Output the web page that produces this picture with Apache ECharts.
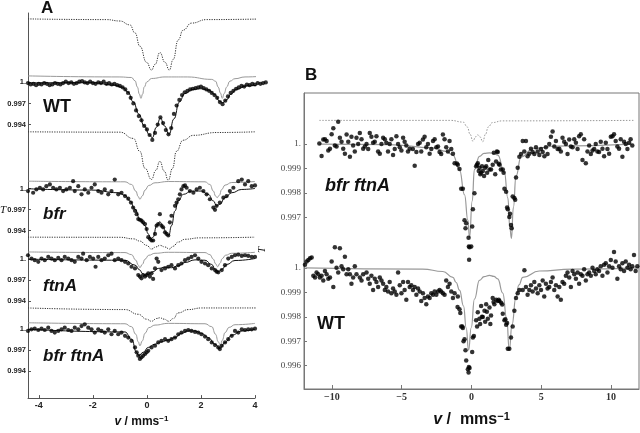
<!DOCTYPE html>
<html><head><meta charset="utf-8">
<script src="https://cdn.jsdelivr.net/npm/echarts@6/dist/echarts.min.js"></script>
<style>html,body{margin:0;padding:0;background:#fff}#c{width:640px;height:433px}</style>
</head><body><div id="c"></div>
<script>
// ---------------- DATA (panel A, v in mm/s, T transmission) ----------------
const leftTicksX = [-4, -2, 0, 2, 4];
const leftTicksY = [0.994, 0.997, 1];
const rightTicksX = [-10, -5, 0, 5, 10];
const rightTicksYTop = [0.997, 0.998, 0.999, 1];
const rightTicksYBot = [0.996, 0.997, 0.998, 0.999, 1];

// WT (panel A)
const A_WT_v = [-4.4,-4.3,-4.2,-4.1,-4.0,-3.9,-3.8,-3.7,-3.6,-3.5,-3.4,-3.3,-3.2,-3.1,-3.0,-2.9,-2.8,-2.7,-2.6,-2.5,-2.4,-2.3,-2.2,-2.1,-2.0,-1.9,-1.8,-1.7,-1.6,-1.5,-1.4,-1.3,-1.2,-1.1,-1.0,-0.9,-0.8,-0.7,-0.6,-0.5,-0.4,-0.3,-0.2,-0.1,0.0,0.1,0.2,0.3,0.4,0.5,0.6,0.7,0.8,0.9,1.0,1.1,1.2,1.3,1.4,1.5,1.6,1.7,1.8,1.9,2.0,2.1,2.2,2.3,2.4,2.5,2.6,2.7,2.8,2.9,3.0,3.1,3.2,3.3,3.4,3.5,3.6,3.7,3.8,3.9,4.0,4.1,4.2,4.3,4.4];
const A_WT_T = [0.9999,0.9997,0.9998,0.9996,0.9998,0.9997,0.9999,0.9998,0.9996,0.9997,0.9999,0.9998,0.9997,0.9999,1.0001,0.9999,1.0000,0.9998,0.9999,1.0001,1.0002,1.0000,0.9999,1.0001,0.9999,0.9998,1.0000,0.9999,1.0001,0.9998,0.9999,0.9997,0.9998,0.9996,0.9995,0.9993,0.9990,0.9985,0.9978,0.9970,0.9960,0.9952,0.9946,0.9938,0.9933,0.9925,0.9918,0.9928,0.9940,0.9950,0.9942,0.9932,0.9926,0.9935,0.9955,0.9967,0.9975,0.9982,0.9986,0.9988,0.9990,0.9991,0.9992,0.9993,0.9994,0.9992,0.9990,0.9988,0.9985,0.9982,0.9978,0.9972,0.9969,0.9974,0.9980,0.9985,0.9988,0.9991,0.9993,0.9995,0.9994,0.9997,0.9996,0.9998,0.9997,0.9999,0.9998,0.9999,1.0000];
const A_WT_fit_v = [-4.4,-2.0,-1.2,-0.9,-0.7,-0.5,-0.3,-0.1,0.1,0.2,0.35,0.5,0.65,0.82,1.0,1.2,1.4,1.7,2.0,2.3,2.5,2.7,2.8,2.95,3.1,3.3,3.7,4.4];
const A_WT_fit_T = [0.99995,0.99995,0.9996,0.9993,0.9986,0.9972,0.9955,0.9938,0.9925,0.9921,0.9936,0.9949,0.9938,0.9926,0.9948,0.9972,0.9984,0.9990,0.9991,0.9989,0.9983,0.9973,0.9971,0.9975,0.9983,0.9990,0.9995,0.9998];
const A_WT_grey_v = [-4.4,-1.0,-0.57,-0.44,-0.35,-0.28,-0.22,-0.16,-0.10,0.0,0.17,0.67,1.5,2.4,2.54,2.64,2.72,2.79,2.86,2.95,3.07,3.26,3.63,4.4];
const A_WT_grey_T = [1.0,0.99985,0.99977,0.9993,0.9984,0.9974,0.9968,0.9974,0.9984,0.99915,0.99963,0.99985,0.99985,0.9995,0.99925,0.9984,0.99755,0.9968,0.9975,0.9984,0.99925,0.9996,0.99985,1.0];
const A_WT_dot_v = [-4.4,-1.5,-1.0,-0.63,-0.44,-0.26,-0.01,0.17,0.3,0.48,0.67,0.83,0.97,1.16,1.34,1.65,2.21,4.4];
const A_WT_dot_T = [1.0,0.9999,0.9997,0.99915,0.998,0.9961,0.9938,0.9927,0.9935,0.9952,0.9938,0.9927,0.9942,0.997,0.9984,0.9994,0.9999,1.0];

// bfr (panel A)
const A_bfr_v = [-4.40,-4.21,-4.09,-3.96,-3.84,-3.72,-3.59,-3.47,-3.35,-3.22,-3.10,-2.98,-2.85,-2.73,-2.67,-2.54,-2.42,-2.30,-2.17,-2.05,-1.93,-1.80,-1.68,-1.56,-1.43,-1.31,-1.19,-1.06,-0.94,-0.81,-0.69,-0.59,-0.51,-0.44,-0.38,-0.32,-0.26,-0.20,-0.14,-0.07,-0.01,0.05,0.11,0.17,0.23,0.30,0.36,0.42,0.48,0.54,0.60,0.67,0.73,0.79,0.85,0.91,1.04,1.10,1.16,1.22,1.28,1.35,1.41,1.47,1.59,1.72,1.84,1.96,2.09,2.21,2.33,2.46,2.52,2.58,2.70,2.83,2.95,3.07,3.20,3.38,3.51,3.63,3.75,3.88,4.00];
const A_bfr_T = [0.99963,0.99939,0.99986,1.0001,0.99986,1.00033,1.00057,1.0001,0.99986,1.0001,0.99963,0.99986,1.0001,1.00104,0.99963,1.00033,0.99916,0.99986,0.99939,1.0001,1.00057,0.99963,0.99939,0.99986,0.99916,0.99963,1.00127,0.99916,0.99939,0.99892,0.99855,0.99799,0.99728,0.99681,0.99634,0.99564,0.99554,0.9954,0.99517,0.99493,0.99422,0.99305,0.99282,0.99258,0.99258,0.99352,0.99469,0.99493,0.99634,0.99469,0.99446,0.99375,0.99352,0.99329,0.99517,0.99611,0.99752,0.99799,0.99846,0.99916,0.99986,1.00033,1.00043,1.0001,0.99963,0.99939,0.99986,1.0001,0.99963,0.99916,0.99846,0.99728,0.99695,0.99752,0.99799,0.99869,0.99892,0.99963,1.0001,1.00104,1.00127,1.00057,1.00104,1.00033,1.00043];
const A_bfr_fit_v = [-4.40,-2.05,-1.06,-0.81,-0.63,-0.44,-0.26,-0.07,0.05,0.15,0.23,0.36,0.48,0.60,0.73,0.81,0.91,1.04,1.16,1.35,1.65,2.02,2.27,2.46,2.58,2.70,2.89,3.14,3.51,4.00];
const A_bfr_fit_T = [0.99996,0.99977,0.99939,0.99902,0.99822,0.99705,0.99564,0.99469,0.99352,0.99282,0.99305,0.99469,0.99526,0.99446,0.99352,0.99329,0.99469,0.99681,0.99822,0.99916,0.99963,0.99963,0.99916,0.99822,0.99752,0.99775,0.99869,0.99939,0.99986,1.0];
const A_bfr_grey_v = [-4.4,-0.81,-0.57,-0.41,-0.32,-0.26,-0.17,-0.07,0.07,0.30,0.79,2.15,2.33,2.46,2.54,2.60,2.68,2.77,2.89,3.14,4.0];
const A_bfr_grey_T = [1.0,0.99991,0.99953,0.99859,0.99779,0.99742,0.99789,0.99873,0.99939,0.99977,0.99995,0.99991,0.99953,0.99859,0.99789,0.99765,0.99798,0.99883,0.99944,0.99981,0.99995];
const A_bfr_dot_v = [-4.4,-1.0,-0.5,-0.26,-0.07,0.17,0.33,0.48,0.64,0.79,0.95,1.09,1.34,1.72,2.58,4.0];
const A_bfr_dot_T = [1.0,0.99995,0.99906,0.9972,0.9948,0.9932,0.9945,0.9958,0.9944,0.9931,0.9948,0.9972,0.9988,0.9995,0.9999,1.0];

// ftnA (panel A)
const A_ftn_v = [-4.40,-4.27,-4.15,-4.02,-3.90,-3.78,-3.65,-3.53,-3.41,-3.28,-3.16,-3.04,-2.91,-2.79,-2.67,-2.54,-2.42,-2.36,-2.23,-2.11,-1.99,-1.90,-1.80,-1.68,-1.56,-1.43,-1.31,-1.19,-1.06,-0.94,-0.81,-0.69,-0.57,-0.44,-0.32,-0.26,-0.20,-0.14,-0.07,-0.01,0.05,0.11,0.17,0.23,0.30,0.36,0.42,0.54,0.67,0.79,0.91,1.04,1.16,1.28,1.41,1.53,1.65,1.78,1.90,2.02,2.15,2.27,2.40,2.52,2.58,2.64,2.77,2.89,3.01,3.14,3.26,3.38,3.51,3.63,3.75,3.88,4.00];
const A_ftn_T = [1.00056,1.00009,0.99985,0.99962,1.00009,0.99985,1.00032,1.00009,0.99985,1.00018,0.99985,1.00032,1.00009,0.99985,0.99962,1.00032,1.00009,1.00079,0.99985,1.00032,1.00009,0.99892,1.00032,0.99985,1.00009,1.00056,1.00079,0.99985,1.00009,0.99985,0.99962,0.99938,0.99892,0.99868,0.99774,0.99751,0.99727,0.99774,0.99751,0.99774,0.99798,0.99751,0.99798,0.99718,0.99868,1.00009,0.99962,0.99845,0.99868,0.99892,0.99915,0.99868,0.99915,0.99938,0.99985,1.00009,1.00032,1.00056,1.00009,0.99962,0.99938,0.99915,0.99868,0.99845,0.99821,0.99812,0.99845,0.99915,1.00009,1.00032,1.00056,1.00065,1.00046,1.00056,1.00046,1.00032,1.00032];
const A_ftn_fit_v = [-4.40,-0.81,-0.44,-0.26,-0.17,-0.07,0.05,0.23,0.42,0.67,0.91,1.16,1.41,1.78,2.15,2.40,2.54,2.64,2.77,2.95,3.26,4.00];
const A_ftn_fit_T = [1.0,0.99985,0.99915,0.99845,0.99798,0.99774,0.99784,0.99821,0.99868,0.99887,0.99878,0.99906,0.99953,0.9999,0.99985,0.99924,0.99845,0.99821,0.99854,0.99924,0.99981,1.00009];
const A_ftn_grey_v = [-4.4,-0.81,-0.57,-0.41,-0.32,-0.26,-0.17,-0.07,0.07,0.30,0.79,2.15,2.33,2.46,2.54,2.62,2.70,2.79,2.91,3.14,4.0];
const A_ftn_grey_T = [1.0,0.99991,0.99962,0.99883,0.99812,0.99775,0.99822,0.99897,0.99953,0.99981,0.99995,0.99991,0.99962,0.99897,0.99831,0.99789,0.99836,0.99906,0.99953,0.99981,0.99995];
const A_ftn_dot_v = [-4.4,-1.0,-0.5,-0.26,-0.01,0.17,0.33,0.48,0.67,0.83,0.97,1.16,1.41,1.96,4.0];
const A_ftn_dot_T = [1.0,0.99998,0.99976,0.99944,0.99883,0.9983,0.9986,0.99883,0.9986,0.9983,0.9987,0.9993,0.9997,0.9999,1.0];

// bfr ftnA (panel A)
const A_bf_v = [-4.40,-4.27,-4.15,-4.02,-3.90,-3.78,-3.65,-3.53,-3.41,-3.28,-3.16,-3.04,-2.91,-2.79,-2.67,-2.54,-2.42,-2.30,-2.17,-2.05,-1.93,-1.80,-1.68,-1.56,-1.43,-1.31,-1.19,-1.06,-0.94,-0.81,-0.69,-0.57,-0.44,-0.38,-0.32,-0.26,-0.20,-0.14,-0.07,-0.01,0.05,0.17,0.30,0.42,0.54,0.67,0.79,0.91,1.04,1.16,1.28,1.41,1.53,1.65,1.78,1.90,2.02,2.15,2.27,2.40,2.52,2.64,2.70,2.77,2.89,3.01,3.14,3.26,3.38,3.51,3.63,3.75,3.88,4.00];
const A_bf_T = [0.99976,1.0,1.00009,0.9999,1.00009,0.9999,1.00023,0.99976,0.99953,0.99976,1.0,1.00023,0.9999,0.99976,1.00023,1.0,1.00046,1.0007,1.00023,1.0,0.99953,1.0,0.99976,0.99953,1.0,0.99929,0.99976,0.99929,0.99953,0.99906,0.99882,0.99835,0.99741,0.99671,0.99624,0.99577,0.996,0.99624,0.99647,0.99671,0.99694,0.99741,0.99765,0.99812,0.99835,0.99859,0.99835,0.99859,0.99882,0.99929,0.99953,0.99976,0.9999,0.99976,0.99962,0.99953,0.99929,0.99896,0.99859,0.99812,0.99774,0.99741,0.99718,0.99765,0.99812,0.99859,0.99906,0.99976,0.99953,1.0,0.9999,1.0,1.0,1.00009];
const A_bf_fit_v = [-4.40,-0.81,-0.57,-0.38,-0.30,-0.14,0.05,0.30,0.54,0.79,1.04,1.28,1.53,1.78,2.02,2.27,2.52,2.70,2.89,3.14,3.51,4.00];
const A_bf_fit_T = [1.0,0.99962,0.99859,0.99671,0.99624,0.99671,0.99741,0.99788,0.99821,0.99845,0.99882,0.99943,0.99976,0.99976,0.99943,0.99882,0.99788,0.99727,0.99812,0.99915,0.99976,1.0];
const A_bf_grey_v = [-4.4,-0.81,-0.57,-0.41,-0.32,-0.26,-0.17,-0.07,0.07,0.30,0.79,2.15,2.40,2.54,2.64,2.72,2.79,2.89,3.04,3.26,4.0];
const A_bf_grey_T = [1.0,0.99986,0.99944,0.99836,0.99728,0.99671,0.99742,0.9985,0.9993,0.99967,0.99991,0.99986,0.99944,0.99836,0.99728,0.99681,0.99751,0.99859,0.99934,0.99972,0.99991];
const A_bf_dot_v = [-4.4,-0.81,-0.32,-0.01,0.17,0.36,0.48,0.64,0.81,0.98,1.16,1.53,2.02,4.4];
const A_bf_dot_T = [1.0,0.99977,0.9991,0.9984,0.9981,0.9985,0.9986,0.9984,0.9981,0.9985,0.9993,0.99977,1.0,1.0];

// ---------------- DATA (panel B) ----------------
const B_bf_v = [-10.90,-10.74,-10.62,-10.50,-10.38,-10.26,-10.14,-10.02,-9.90,-9.79,-9.67,-9.55,-9.43,-9.31,-9.19,-9.07,-8.95,-8.83,-8.71,-8.60,-8.48,-8.36,-8.24,-8.12,-8.00,-7.88,-7.76,-7.64,-7.52,-7.40,-7.29,-7.17,-7.05,-6.93,-6.81,-6.69,-6.57,-6.45,-6.33,-6.21,-6.10,-5.98,-5.86,-5.74,-5.62,-5.50,-5.38,-5.26,-5.14,-5.02,-4.90,-4.79,-4.67,-4.55,-4.43,-4.20,-4.07,-3.95,-3.83,-3.71,-3.60,-3.48,-3.36,-3.24,-3.12,-3.00,-2.88,-2.76,-2.64,-2.52,-2.40,-2.29,-2.17,-2.05,-1.93,-1.81,-1.69,-1.57,-1.45,-1.33,-1.21,-1.05,-0.98,-0.86,-0.74,-0.62,-0.50,-0.43,-0.38,-0.21,-0.19,-0.14,-0.17,-0.02,0.05,0.10,0.21,0.33,0.40,0.45,0.52,0.57,0.63,0.69,0.75,0.81,0.90,0.98,1.05,1.12,1.20,1.29,1.40,1.52,1.60,1.70,1.76,1.82,1.88,1.95,2.00,2.10,2.24,2.30,2.36,2.48,2.55,2.60,2.71,2.76,2.83,2.88,2.95,3.07,3.13,3.19,3.31,3.43,3.55,3.67,3.78,3.90,4.02,4.14,4.26,4.38,4.50,4.62,4.74,4.86,4.98,5.10,5.22,5.33,5.45,5.57,5.69,5.81,5.93,6.05,6.17,6.29,6.40,6.52,6.64,6.76,6.88,7.00,7.12,7.24,7.36,7.48,7.60,7.71,7.83,7.95,8.07,8.19,8.31,8.43,8.55,8.67,8.79,8.90,9.02,9.14,9.26,9.38,9.50,9.62,9.74,9.86,9.98,10.10,10.21,10.33,10.45,10.57,10.69,10.81,10.93,11.05,11.17,11.29,11.40,11.52];
const B_bf_T = [1.00003,0.99951,1.00019,1.0002,1.00013,0.99974,0.99981,1.0004,1.00065,0.99994,0.9999,1.00091,1.00026,1.0001,0.99981,0.99961,1.00039,1.0001,0.99948,1.0003,0.99994,0.9997,1.00026,1.0,1.00045,1.0002,0.99981,0.9999,1.0,0.9998,1.00045,1.0003,1.00006,1.0001,1.00032,0.9997,0.99961,1.0,1.00026,1.0002,1.00006,0.9997,1.0,1.0002,0.99955,0.9998,1.00032,1.0,0.99987,0.99974,1.00026,1.0001,0.99994,0.9997,0.99981,0.9998,0.99912,0.99968,1.0,1.00006,0.9997,1.00019,1.0003,0.99987,1.0,0.99961,0.9998,1.00013,1.0002,0.99987,0.9999,0.99968,0.9996,1.00039,1.0002,0.99987,0.9997,1.00013,0.9998,0.99961,0.99922,0.99921,0.99916,0.99898,0.99818,0.99818,0.99689,0.99656,0.99676,0.99617,0.99581,0.99578,0.99527,0.99581,0.99663,0.99734,0.99799,0.99909,0.99916,0.99922,0.9989,0.99903,0.99877,0.99883,0.99909,0.9989,0.9987,0.99903,0.99909,0.99883,0.99935,0.99896,0.99896,0.99916,0.99965,0.99877,0.99929,0.9997,0.99968,0.9992,0.99916,0.99896,0.99896,0.99883,0.99818,0.99805,0.99741,0.99734,0.99702,0.99715,0.99669,0.99656,0.99786,0.9978,0.99773,0.99864,0.99903,0.99948,0.9996,1.00013,0.9997,1.00013,0.9995,0.99961,0.99981,0.99968,0.9996,0.99987,0.9997,0.99955,0.9998,0.99968,0.9995,0.99987,0.9996,1.0,1.0003,1.00052,0.9999,1.00013,0.9998,0.99981,0.9997,1.00026,1.0001,1.0,0.9996,1.00019,0.9999,0.99987,1.0002,1.00006,0.9998,1.00032,1.0004,0.99935,1.0002,0.99922,0.9997,0.99994,0.9996,0.99974,0.9998,1.0,0.9997,0.99968,1.0001,0.99981,0.9995,1.00006,0.9998,0.99961,1.0003,1.00032,1.0004,1.00013,0.9999,0.99981,1.0002,0.99948,1.0001,1.0,0.9998,1.00006,1.0002,0.99994];
const B_bf_fit_v = [-10.9,-5.9,-2.8,-1.8,-1.33,-0.86,-0.5,-0.26,-0.14,0.05,0.21,0.57,0.9,1.29,1.6,1.88,2.36,2.6,2.76,2.86,3.0,3.19,3.55,4.4,6.0,11.5];
const B_bf_fit_T = [1.0,0.99998,0.99985,0.9997,0.99955,0.99896,0.99793,0.99689,0.99618,0.99767,0.99896,0.9995,0.99962,0.99964,0.99962,0.99955,0.99883,0.9978,0.9965,0.99615,0.99741,0.9987,0.99948,0.99981,0.99992,1.0];
const B_bf_dot_v = [-10.9,-1.5,-0.6,-0.3,-0.1,0.1,0.3,0.45,0.6,0.81,1.0,1.2,1.5,2.2,11.6];
const B_bf_dot_T = [1.0,1.0,0.99993,0.99973,0.99943,0.99915,0.99933,0.99941,0.99933,0.99913,0.99943,0.99973,0.99991,0.99998,1.0];

const B_WT_v = [-11.93,-11.81,-11.69,-11.57,-11.45,-11.33,-11.21,-11.10,-10.98,-10.86,-10.74,-10.62,-10.50,-10.38,-10.26,-10.14,-10.02,-9.90,-9.79,-9.67,-9.55,-9.43,-9.31,-9.19,-9.07,-8.95,-8.83,-8.71,-8.60,-8.48,-8.36,-8.24,-8.00,-7.88,-7.76,-7.52,-7.40,-7.29,-7.17,-7.05,-6.93,-6.81,-6.69,-6.57,-6.45,-6.33,-6.21,-6.10,-5.98,-5.86,-5.74,-5.62,-5.50,-5.38,-5.26,-5.14,-5.02,-4.90,-4.79,-4.67,-4.55,-4.43,-4.31,-4.19,-4.07,-3.95,-3.83,-3.71,-3.60,-3.48,-3.36,-3.24,-3.12,-3.00,-2.88,-2.76,-2.64,-2.52,-2.40,-2.29,-2.17,-2.05,-1.93,-1.81,-1.69,-1.57,-1.45,-1.33,-1.21,-0.98,-1.00,-0.86,-0.80,-0.74,-0.66,-0.62,-0.57,-0.50,-0.43,-0.38,-0.26,-0.21,-0.19,-0.14,0.05,0.10,0.17,0.33,0.40,0.45,0.57,0.62,0.69,0.75,0.81,0.93,0.98,1.05,1.10,1.17,1.29,1.35,1.40,1.52,1.58,1.64,1.76,1.88,1.95,2.00,2.12,2.20,2.24,2.36,2.42,2.48,2.55,2.60,2.71,2.83,2.95,3.07,3.19,3.31,3.43,3.67,3.79,3.90,4.02,4.14,4.26,4.38,4.50,4.62,4.74,4.86,4.98,5.10,5.21,5.33,5.45,5.57,5.69,5.81,5.93,6.05,6.17,6.29,6.40,6.52,6.64,6.76,6.88,7.00,7.12,7.24,7.36,7.48,7.60,7.71,7.83,7.95,8.07,8.19,8.31,8.43,8.55,8.67,8.79,8.90,9.02,9.14,9.26,9.38,9.50,9.62,9.74,9.86,9.98,10.10,10.21,10.33,10.45,10.57,10.69,10.81,10.93,11.05,11.17,11.29,11.40,11.52,11.64,11.76,11.88];
const B_WT_T = [1.00013,1.00026,1.00032,1.00039,1.00042,0.99968,0.99961,0.99981,0.99974,0.99961,0.99968,0.99948,0.99987,0.99974,0.99955,0.99961,1.00026,0.99922,1.00084,1.0,0.99981,1.0008,1.00006,0.99994,1.00045,0.99974,0.99994,0.99974,0.99935,0.99961,1.00006,0.99974,0.99961,0.99948,0.99974,0.99981,0.99955,0.99935,0.99968,0.99909,0.99955,0.99942,0.99922,0.99961,0.99948,0.99935,0.99909,0.99922,0.99903,0.99942,0.99896,0.99916,0.99903,0.9989,0.99981,0.99929,0.99896,0.99942,0.99909,0.9987,0.99942,0.99922,0.99929,0.99909,0.99922,0.9989,0.99916,0.99903,0.99864,0.99896,0.99877,0.99851,0.99883,0.99877,0.99896,0.9989,0.99903,0.9989,0.99903,0.99909,0.99903,0.99896,0.9989,0.99948,0.99922,0.99935,0.99903,0.99877,0.99896,0.99883,0.9984,0.99831,0.99815,0.9976,0.9976,0.99754,0.9970,0.99708,0.99663,0.99621,0.99585,0.99572,0.99595,0.99591,0.99656,0.99715,0.99721,0.99786,0.9976,0.99818,0.99792,0.9977,0.99844,0.998,0.99799,0.99825,0.9978,0.99851,0.9982,0.99792,0.99838,0.9977,0.99805,0.99877,0.9986,0.99851,0.9987,0.99864,0.9987,0.99864,0.99857,0.9985,0.99812,0.99786,0.9979,0.99767,0.99775,0.99669,0.99669,0.99715,0.9976,0.99825,0.99877,0.99896,0.99909,0.99909,0.9999,0.99922,0.9989,0.99909,0.99929,0.99903,0.99942,0.99916,0.99896,0.99929,0.99909,0.99948,0.99883,0.99935,0.99916,0.99922,0.99942,0.99961,0.99909,0.99929,0.99883,0.99922,0.9987,0.99942,0.99935,0.99968,0.99981,0.99961,0.99922,0.99987,0.99974,0.99955,0.99981,0.99935,0.99974,0.99968,0.99994,0.99948,0.99974,0.99981,0.99968,1.0,0.99987,0.99974,0.99994,0.99987,1.00006,0.99968,1.00013,1.00019,0.99981,1.00006,1.00032,1.0,1.00065,1.00026,0.99955,1.00006,0.99994,1.00019,0.99987,1.00026,1.0,1.00013,0.99994,1.00006,1.00052,0.99987,1.00006];
const B_WT_fit_v = [-11.9,-3.5,-2.05,-1.33,-1.1,-0.86,-0.57,-0.38,-0.21,-0.02,0.21,0.57,0.9,1.29,1.6,1.88,2.24,2.52,2.71,2.9,3.19,3.4,3.67,4.86,7.2,12];
const B_WT_fit_T = [1.0,0.99995,0.99985,0.99961,0.9994,0.99909,0.99844,0.99755,0.99663,0.99755,0.99872,0.99949,0.99964,0.99969,0.99965,0.99955,0.99897,0.99793,0.99663,0.99767,0.99883,0.9993,0.99961,0.99987,0.99995,1.0];

// ---------------- LAYOUT ----------------
const LG = {left: 28, top: 13, width: 227, height: 390};
const L_PX = 7100;               // px per unit T, panel A
const L_ONE = [83.3, 190.7, 262.3, 333.3];   // pixel row of T=1 per spectrum
const L_GREY_OFF = [0.00093, 0.00104, 0.00103, 0.00093];
const L_DOT_OFF = [0.00906, 0.00808, 0.00314, 0.00304];
const RG = {left: 304, top: 93, width: 335, height: 311};
const R_PX = 25700;
const R_ONE = [146.7, 276.7];
const R_DOT_OFF = 0.00097;

function range(one, g, px) { const max = 1 + (one - g.top) / px; return {min: max - g.height / px, max}; }
function pts(v, T, off) { off = off || 0; return v.map((x, i) => [x, T[i] + off]); }
const fmtY = v => (Math.abs(v - 1) < 1e-9 ? '1.' : v.toFixed(3));

const yAxes = [];
for (let i = 0; i < 4; i++) {
  const r = range(L_ONE[i], LG, L_PX);
  yAxes.push({gridIndex: 0, type: 'value', position: 'left', min: r.min, max: r.max, offset: 0,
    axisLine: {show: i === 0, onZero: false, lineStyle: {color: '#555', width: 1}},
    axisTick: {show: true, inside: true, length: 3, customValues: leftTicksY, lineStyle: {color: '#555'}},
    axisLabel: {customValues: leftTicksY, formatter: fmtY, fontSize: 7.5, fontWeight: 'bold', fontFamily: 'Liberation Sans', color: '#222', margin: 2},
    splitLine: {show: false}});
}
[rightTicksYTop, rightTicksYBot].forEach((tk, i) => {
  const r = range(R_ONE[i], RG, R_PX);
  yAxes.push({gridIndex: 1, type: 'value', position: 'left', min: r.min, max: r.max, offset: 0,
    axisLine: {show: i === 0, onZero: false, lineStyle: {color: '#777'}},
    axisTick: {show: true, inside: true, length: 3, customValues: tk, lineStyle: {color: '#777'}},
    axisLabel: {customValues: tk, formatter: fmtY, fontSize: 9, fontFamily: 'Liberation Serif', color: '#444', margin: 3},
    splitLine: {show: false}});
});

const nameRich = (fs, sfs) => ({
  i: {fontStyle: 'italic', fontWeight: 'bold', fontSize: fs, fontFamily: 'Liberation Sans', color: '#111', lineHeight: fs + 2},
  n: {fontWeight: 'bold', fontSize: fs, fontFamily: 'Liberation Sans', color: '#111', lineHeight: fs + 2},
  s: {fontWeight: 'bold', fontSize: sfs, fontFamily: 'Liberation Sans', color: '#111', verticalAlign: 'top', lineHeight: fs + 2}
});

const xAxes = [
  {gridIndex: 0, type: 'value', min: -4.4, max: 4,
    axisLine: {onZero: false, lineStyle: {color: '#555'}},
    axisTick: {inside: true, length: 3, customValues: leftTicksX, lineStyle: {color: '#555'}},
    axisLabel: {customValues: leftTicksX, fontSize: 9, fontWeight: 'bold', fontFamily: 'Liberation Sans', color: '#222', margin: 3},
    splitLine: {show: false},
    name: '{i|v}{n| / mms}{s|−1}', nameLocation: 'middle', nameGap: 16, nameTextStyle: {rich: nameRich(12, 8)}},
  {gridIndex: 1, type: 'value', min: -12, max: 12,
    axisLine: {onZero: false, lineStyle: {color: '#777'}},
    axisTick: {inside: true, length: 4, customValues: rightTicksX, lineStyle: {color: '#777'}},
    axisLabel: {customValues: rightTicksX, formatter: v => (v < 0 ? '−' + Math.abs(v) : String(v)), fontSize: 10, fontWeight: 'bold', fontFamily: 'Liberation Serif', color: '#333', margin: 3},
    splitLine: {show: false},
    name: '{i|v}{n| /  mms}{s|−1}', nameLocation: 'middle', nameGap: 22, nameTextStyle: {rich: nameRich(16, 11)}}
];

const series = [];
function line(xi, yi, data, color, width, type) {
  series.push({type: 'line', xAxisIndex: xi, yAxisIndex: yi, data, showSymbol: false, symbol: 'none',
    smooth: 0.5, smoothMonotone: 'x', silent: true, clip: false, z: 2,
    lineStyle: {color, width, type}});
}
function dots(xi, yi, data, size) {
  series.push({type: 'scatter', xAxisIndex: xi, yAxisIndex: yi, data, symbol: 'circle', symbolSize: size,
    itemStyle: {color: '#000'}, silent: true, clip: false, z: 3});
}
const A = [
  [A_WT_v, A_WT_T, A_WT_fit_v, A_WT_fit_T, A_WT_grey_v, A_WT_grey_T, A_WT_dot_v, A_WT_dot_T],
  [A_bfr_v, A_bfr_T, A_bfr_fit_v, A_bfr_fit_T, A_bfr_grey_v, A_bfr_grey_T, A_bfr_dot_v, A_bfr_dot_T],
  [A_ftn_v, A_ftn_T, A_ftn_fit_v, A_ftn_fit_T, A_ftn_grey_v, A_ftn_grey_T, A_ftn_dot_v, A_ftn_dot_T],
  [A_bf_v, A_bf_T, A_bf_fit_v, A_bf_fit_T, A_bf_grey_v, A_bf_grey_T, A_bf_dot_v, A_bf_dot_T]
];
A.forEach((s, i) => {
  line(0, i, pts(s[6], s[7], L_DOT_OFF[i]), '#333', 1, [1.2, 1.2]);
  line(0, i, pts(s[4], s[5], L_GREY_OFF[i]), '#999', 1, 'solid');
  line(0, i, pts(s[2], s[3]), '#111', 1, 'solid');
  dots(0, i, pts(s[0], s[1]), 4.2);
});
line(1, 4, pts(B_bf_dot_v, B_bf_dot_T, R_DOT_OFF), '#999', 1, [1.5, 1.5]);
line(1, 4, pts(B_bf_fit_v, B_bf_fit_T), '#999', 1.2, 'solid');
dots(1, 4, pts(B_bf_v, B_bf_T), 4.5);
line(1, 5, pts(B_WT_fit_v, B_WT_fit_T), '#999', 1.2, 'solid');
dots(1, 5, pts(B_WT_v, B_WT_T), 4.5);

const t = (x, y, text, font, extra) => Object.assign({type: 'text', x, y, silent: true,
  style: {text, font, fill: '#111', verticalAlign: 'middle', align: 'left'}}, extra || {});
const graphic = [
  t(41, 8, 'A', 'bold 17px "Liberation Sans"'),
  t(305, 75, 'B', 'bold 17px "Liberation Sans"'),
  t(43, 107, 'WT', 'bold 18px "Liberation Sans"'),
  t(43, 214, 'bfr', 'italic bold 17px "Liberation Sans"'),
  t(43, 286, 'ftnA', 'italic bold 17px "Liberation Sans"'),
  t(43, 356, 'bfr ftnA', 'italic bold 17px "Liberation Sans"'),
  t(325, 186, 'bfr ftnA', 'italic bold 18px "Liberation Sans"'),
  t(317, 324, 'WT', 'bold 18px "Liberation Sans"'),
  t(0, 210, 'T', 'italic 11px "Liberation Serif"'),
  {type: 'text', x: 262, y: 250, rotation: Math.PI / 2, silent: true,
    style: {text: 'T', font: 'italic 11px "Liberation Serif"', fill: '#111', align: 'center', verticalAlign: 'middle'}}
];

const chart = echarts.init(document.getElementById('c'), null, {renderer: 'canvas'});
chart.setOption({
  animation: false,
  backgroundColor: '#fff',
  grid: [
    Object.assign({show: false}, LG),
    Object.assign({show: true, borderColor: '#777', borderWidth: 1, backgroundColor: 'transparent'}, RG)
  ],
  xAxis: xAxes,
  yAxis: yAxes,
  series,
  graphic
});
</script></body></html>
